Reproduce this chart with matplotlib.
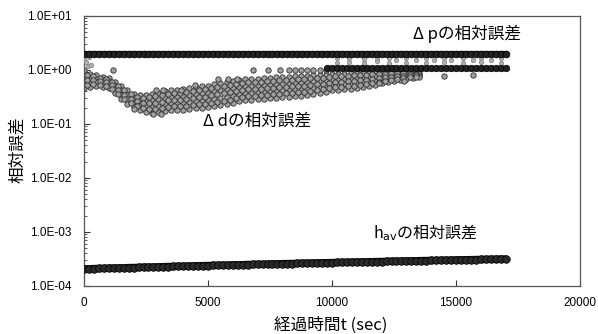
import numpy as np
import matplotlib
matplotlib.use("Agg")
import matplotlib.pyplot as plt
from matplotlib.ticker import FuncFormatter, LogLocator, FixedLocator

plt.rcParams['font.family'] = ['Liberation Sans', 'Noto Sans CJK JP', 'DejaVu Sans']
JP = ['Noto Sans CJK JP', 'DejaVu Sans']

# ---------------- data ----------------
# common sampling times (sec) for the dense bands
t_band = np.arange(0, 17001, 200)

# Δp relative error: upper band (~2.0)
dp_upper = [2.0, 2.0, 2.0, 2.0, 2.0, 2.0, 2.0, 2.0, 2.0, 2.0,
            2.0, 2.0, 2.0, 2.0, 2.0, 2.0, 2.0, 2.0, 2.0, 2.0,
            2.0, 2.0, 2.0, 2.0, 2.0, 2.0, 2.0, 2.0, 2.0, 2.0,
            2.0, 2.0, 2.0, 2.0, 2.0, 2.0, 2.0, 2.0, 2.0, 2.0,
            2.0, 2.0, 2.0, 2.0, 2.0, 2.0, 2.0, 2.0, 2.0, 2.0,
            2.0, 2.0, 2.0, 2.0, 2.0, 2.0, 2.0, 2.0, 2.0, 2.0,
            2.0, 2.0, 2.0, 2.0, 2.0, 2.0, 2.0, 2.0, 2.0, 2.0,
            2.0, 2.0, 2.0, 2.0, 2.0, 2.0, 2.0, 2.0, 2.0, 2.0,
            2.0, 2.0, 2.0, 2.0, 2.0, 2.0]
# Δp lower band (~1.1) from 9800 s
dp_lower_t = np.arange(9800, 17001, 200)
dp_lower = [1.10, 1.10, 1.10, 1.10, 1.10, 1.10, 1.10, 1.10, 1.10, 1.10,
            1.10, 1.10, 1.10, 1.10, 1.10, 1.10, 1.10, 1.10, 1.10, 1.10,
            1.10, 1.10, 1.10, 1.10, 1.10, 1.10, 1.10, 1.10, 1.10, 1.10,
            1.10, 1.10, 1.10, 1.10, 1.10, 1.10, 1.10]
# Δp scattered intermediate points
dp_mid_t = [0, 100, 150, 200, 300,
            10200, 10200, 10700, 10700, 11300, 11300, 11800, 11800, 12300, 12300,
            12600, 13000, 13000, 13400, 13800, 13800, 14100, 14500, 14500, 14800,
            15300, 15300, 15700, 16000, 16000, 16400, 16800, 16800]
dp_mid = [1.6, 1.4, 1.2, 1.75, 1.25,
          1.35, 1.65, 1.4, 1.7, 1.35, 1.6, 1.45, 1.7, 1.35, 1.65,
          1.5, 1.35, 1.7, 1.5, 1.35, 1.65, 1.5, 1.4, 1.7, 1.5,
          1.35, 1.65, 1.5, 1.4, 1.7, 1.5, 1.35, 1.65]

# Δd relative error: cloud read as rows (top to bottom)
dd_t = np.arange(0, 13501, 250)
dd_r1 = [0.918, 0.843, 0.808, 0.742, 0.711, 0.599, 0.505, 0.426, 0.359, 0.344,
         0.344, 0.359, 0.375, 0.408, 0.426, 0.426, 0.444, 0.464, 0.484, 0.505,
         0.505, 0.550, 0.574, 0.599, 0.625, 0.653, 0.681, 0.681, 0.681, 0.711,
         0.711, 0.742, 0.742, 0.742, 0.774, 0.774, 0.774, 0.808, 0.808, 0.808,
         0.843, 0.843, 0.843, 0.880, 0.880, 0.880, 0.880, 0.918, 0.918, 0.918,
         0.918, 0.918, 0.918, 0.880, 0.880]
dd_r2 = [0.742, 0.711, 0.681, 0.653, 0.625, 0.505, 0.426, 0.344, 0.303, 0.278,
         0.266, 0.278, 0.290, 0.303, 0.316, 0.316, 0.330, 0.344, 0.359, 0.375,
         0.375, 0.408, 0.426, 0.444, 0.464, 0.484, 0.505, 0.505, 0.505, 0.527,
         0.527, 0.550, 0.550, 0.550, 0.574, 0.574, 0.599, 0.625, 0.625, 0.625,
         0.681, 0.681, 0.681, 0.711, 0.711, 0.711, 0.742, 0.774, 0.774, 0.808,
         0.808, 0.808, 0.843, 0.808, 0.843]
dd_r3 = [0.574, 0.574, 0.599, 0.550, 0.527, 0.444, 0.344, 0.290, 0.245, 0.225,
         0.215, 0.206, 0.215, 0.234, 0.245, 0.245, 0.245, 0.255, 0.266, 0.266,
         0.278, 0.290, 0.303, 0.316, 0.330, 0.359, 0.375, 0.375, 0.391, 0.391,
         0.408, 0.408, 0.426, 0.426, 0.444, 0.444, 0.444, 0.464, 0.484, 0.505,
         0.527, 0.527, 0.550, 0.550, 0.574, 0.599, 0.599, 0.625, 0.681, 0.681,
         0.711, 0.742, 0.742, 0.774, 0.774]
dd_r4 = [0.464, 0.484, 0.505, 0.484, 0.464, 0.375, 0.290, 0.234, 0.206, 0.181,
         0.167, 0.160, 0.167, 0.174, 0.181, 0.181, 0.181, 0.189, 0.198, 0.198,
         0.206, 0.215, 0.225, 0.234, 0.245, 0.266, 0.278, 0.278, 0.290, 0.290,
         0.303, 0.303, 0.316, 0.316, 0.330, 0.330, 0.344, 0.359, 0.375, 0.391,
         0.426, 0.426, 0.444, 0.444, 0.464, 0.484, 0.505, 0.527, 0.574, 0.599,
         0.625, 0.653, 0.681, 0.711, 0.742]
# in-between rows, sampled half a step later
dd_t_half = np.arange(125, 13376, 250)
dd_r12 = [0.800, 0.760, 0.720, 0.680, 0.610, 0.510, 0.425, 0.358, 0.321, 0.308,
          0.312, 0.326, 0.344, 0.363, 0.371, 0.379, 0.396, 0.413, 0.431, 0.440,
          0.460, 0.490, 0.511, 0.533, 0.557, 0.581, 0.593, 0.593, 0.606, 0.619,
          0.633, 0.646, 0.646, 0.660, 0.674, 0.680, 0.700, 0.717, 0.717, 0.739,
          0.762, 0.762, 0.779, 0.796, 0.796, 0.803, 0.829, 0.846, 0.855, 0.863,
          0.863, 0.872, 0.862, 0.853]
dd_r23 = [0.650, 0.641, 0.621, 0.589, 0.525, 0.430, 0.351, 0.296, 0.263, 0.246,
          0.241, 0.247, 0.260, 0.275, 0.280, 0.284, 0.293, 0.306, 0.317, 0.323,
          0.338, 0.357, 0.372, 0.389, 0.409, 0.431, 0.440, 0.444, 0.454, 0.463,
          0.473, 0.484, 0.488, 0.499, 0.509, 0.515, 0.533, 0.550, 0.560, 0.585,
          0.604, 0.610, 0.623, 0.637, 0.649, 0.663, 0.685, 0.714, 0.736, 0.752,
          0.767, 0.784, 0.792, 0.800]
dd_r34 = [0.524, 0.540, 0.535, 0.506, 0.453, 0.363, 0.290, 0.244, 0.214, 0.197,
          0.187, 0.187, 0.198, 0.209, 0.213, 0.213, 0.218, 0.227, 0.232, 0.237,
          0.247, 0.258, 0.270, 0.281, 0.300, 0.320, 0.327, 0.334, 0.341, 0.348,
          0.356, 0.363, 0.371, 0.379, 0.387, 0.390, 0.403, 0.420, 0.439, 0.462,
          0.477, 0.487, 0.497, 0.508, 0.530, 0.547, 0.564, 0.602, 0.634, 0.654,
          0.683, 0.705, 0.727, 0.750]
# Δd isolated / outlying points
dd_x_t = [0, 1150, 5400, 5800, 6150, 6800, 7400, 7900, 8250, 8500, 8750, 9000,
          9250, 9500, 9750, 2800, 3100, 2000, 2900, 3200, 3900, 4470,
          11900, 12900, 14500, 15700]
dd_x_v = [1.0, 0.98, 0.68, 0.68, 0.68, 1.0, 1.0, 1.0, 1.0, 1.0, 1.0, 1.0,
          1.0, 1.0, 1.0, 0.15, 0.155, 0.19, 0.426, 0.43, 0.43, 0.53,
          0.57, 0.62, 0.76, 0.80]

# h_av relative error (x1e-4)
hav = [2.07, 2.08, 2.10, 2.11, 2.12, 2.14, 2.15, 2.16, 2.17, 2.19,
       2.20, 2.21, 2.23, 2.24, 2.25, 2.26, 2.28, 2.29, 2.30, 2.32,
       2.33, 2.34, 2.35, 2.37, 2.38, 2.39, 2.41, 2.42, 2.43, 2.44,
       2.46, 2.47, 2.48, 2.50, 2.51, 2.52, 2.53, 2.55, 2.56, 2.57,
       2.59, 2.60, 2.61, 2.62, 2.64, 2.65, 2.66, 2.68, 2.69, 2.70,
       2.71, 2.73, 2.74, 2.75, 2.77, 2.78, 2.79, 2.80, 2.82, 2.83,
       2.84, 2.86, 2.87, 2.88, 2.89, 2.91, 2.92, 2.93, 2.95, 2.96,
       2.97, 2.98, 3.00, 3.01, 3.02, 3.04, 3.05, 3.06, 3.07, 3.09,
       3.10, 3.11, 3.13, 3.14, 3.15, 3.16]
hav_scale = 1e-4

x_ticks = [0, 5000, 10000, 15000, 20000]
y_ticks = [1e-4, 1e-3, 1e-2, 1e-1, 1e0, 1e1]

# ---------------- figure ----------------
fig = plt.figure(figsize=(5.98, 3.34), dpi=100)
ax = fig.add_axes([84/598, 1-286/334, 496/598, 270/334])

ax.set_yscale('log')
ax.set_xlim(0, 20000)
ax.set_ylim(1e-4, 1e1)

dd_style = dict(s=15, facecolor='#a0a0a0', edgecolor='#2e2e2e',
                linewidths=0.6, zorder=2)
for row in (dd_r1, dd_r2, dd_r3, dd_r4):
    ax.scatter(dd_t, row, **dd_style)
for row in (dd_r12, dd_r23, dd_r34):
    ax.scatter(dd_t_half, row, **dd_style)
ax.scatter(dd_x_t, dd_x_v, **dd_style)

# Δp
ax.scatter(dp_mid_t, dp_mid, s=10, facecolor='#b0b0b0', edgecolor='#808080',
           linewidths=0.5, zorder=3)
ax.plot(dp_lower_t, dp_lower, color='#111111', lw=3.8,
        solid_capstyle='round', zorder=3)
ax.scatter(dp_lower_t, dp_lower, s=22, facecolor='#222222', edgecolor='#000000',
           linewidths=0.5, zorder=3)
ax.plot(t_band, dp_upper, color='#111111', lw=4.4,
        solid_capstyle='round', zorder=3)
ax.scatter(t_band, dp_upper, s=24, facecolor='#222222', edgecolor='#000000',
           linewidths=0.5, zorder=3)

# h_av
hav_v = np.array(hav) * hav_scale
ax.plot(t_band, hav_v, color='#111111', lw=5.4, solid_capstyle='round', zorder=3)
ax.scatter(t_band, hav_v, s=30, facecolor='#2a2a2a',
           edgecolor='#000000', linewidths=0.5, zorder=3)

# axes styling
for sp in ax.spines.values():
    sp.set_color('#555555')
    sp.set_linewidth(0.9)
ax.xaxis.set_major_locator(FixedLocator(x_ticks))
ax.yaxis.set_major_locator(FixedLocator(y_ticks))
ax.yaxis.set_minor_locator(LogLocator(base=10, subs=np.arange(2, 10)))
ax.yaxis.set_major_formatter(FuncFormatter(lambda v, p: "%.1E" % v))
ax.xaxis.set_major_formatter(FuncFormatter(lambda v, p: "%d" % v))
ax.tick_params(axis='both', which='major', direction='in', length=4,
               width=0.8, color='#333333', labelsize=8.5)
ax.tick_params(axis='x', pad=8)
ax.tick_params(axis='y', pad=9)
ax.tick_params(axis='y', which='minor', direction='in', length=2,
               width=0.6, color='#444444')

# labels
ax.text(15444, 4.74, "Δ pの相対誤差", family=JP, fontsize=12,
        ha='center', va='center')
ax.text(6976, 0.111, "Δ dの相対誤差", family=JP, fontsize=12,
        ha='center', va='center')
ax.text(13750, 9.6e-4, r"h$_{\mathrm{av}}$の相対誤差", family=JP, fontsize=11.5,
        ha='center', va='center')

fig.text(331/598, 1-325/334, "経過時間t (sec)", family=JP, fontsize=12,
         ha='center', va='center')
fig.text(18/598, 1-150/334, "相対誤差", family=JP, fontsize=12,
         ha='center', va='center', rotation=90)

fig.savefig("out.png", dpi=100)
